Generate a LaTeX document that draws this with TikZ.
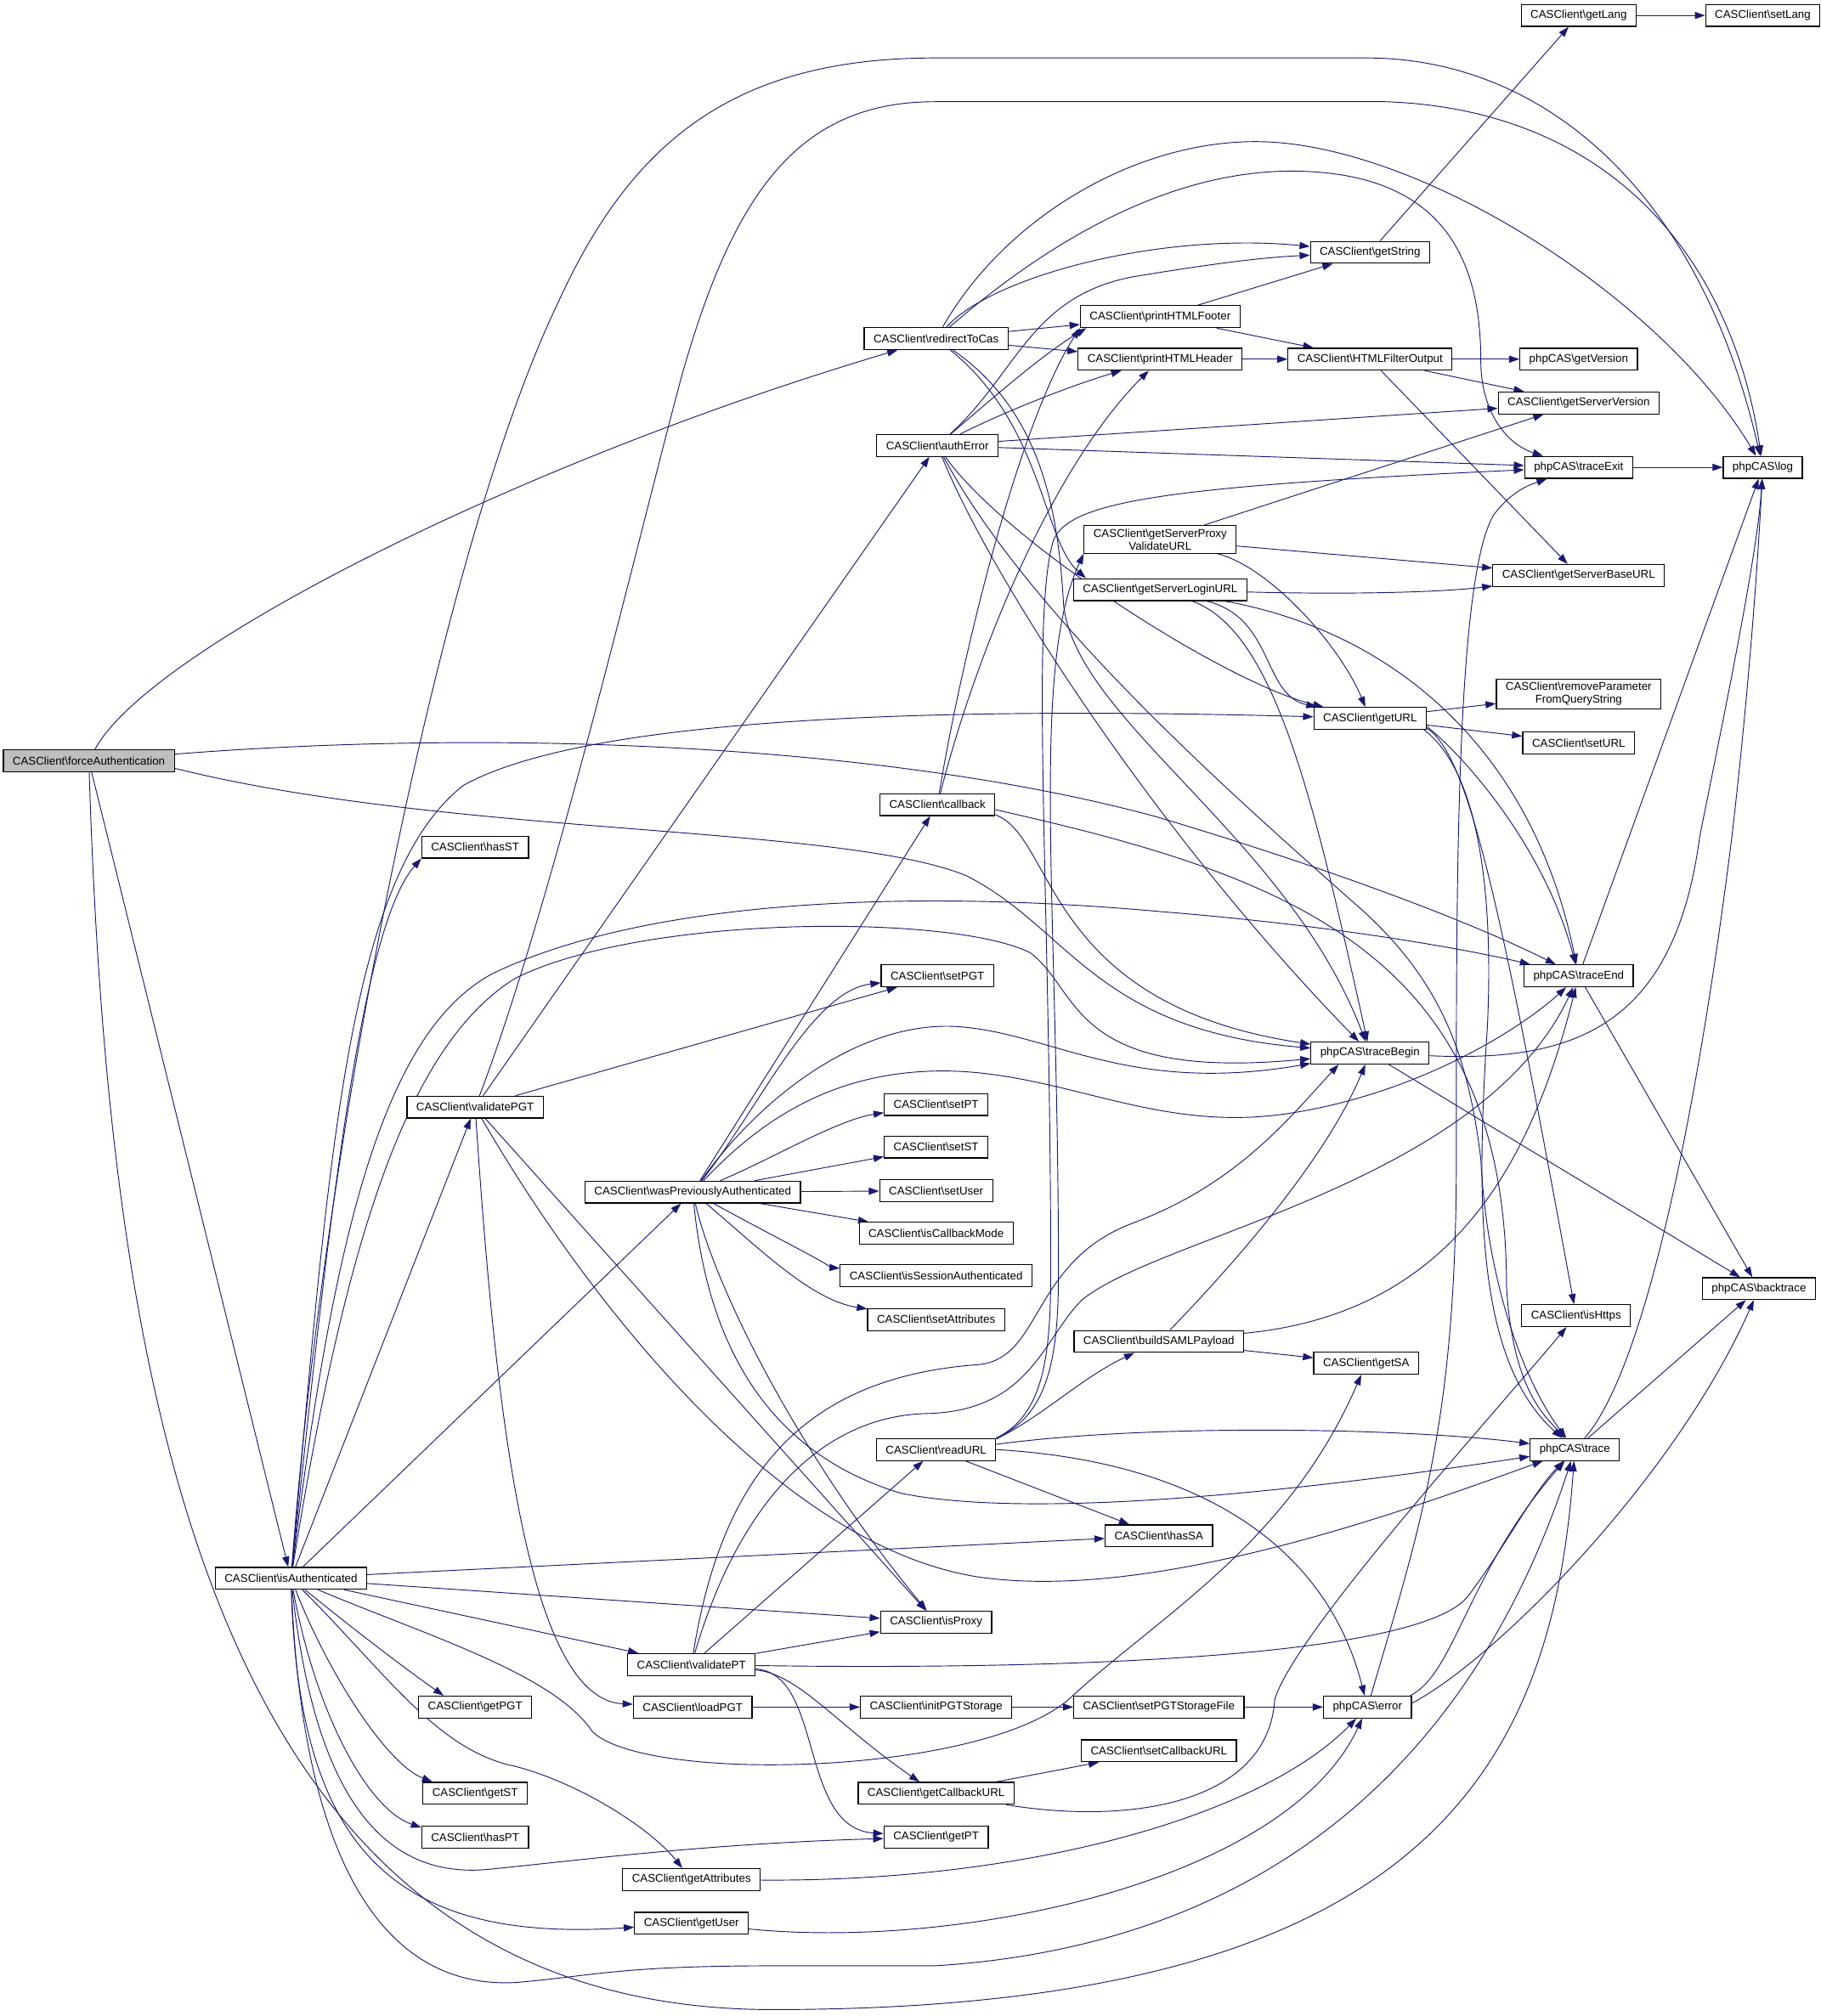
\documentclass[tikz,border=0pt]{standalone}
\usepackage{fontspec}
\setmainfont{Liberation Sans}
\usetikzlibrary{arrows.meta}
\definecolor{edgeblue}{HTML}{191970}
\newcommand{\cls}[1]{CASClient\textbackslash #1}
\newcommand{\pcs}[1]{phpCAS\textbackslash #1}
\pgfdeclarelayer{edges}
\pgfsetlayers{edges,main}

\begin{document}
\begin{tikzpicture}[x=0.04cm, y=-0.04cm,
  fn/.style={draw=black, line width=0.9pt, fill=white, shape=rectangle, inner xsep=0.29cm, inner ysep=0.1cm, minimum height=0.68cm, font=\fontsize{10}{11.5}\selectfont, align=center},
  root/.style={fn, fill=gray!50},
  call/.style={draw=edgeblue, line width=0.7pt, -{Triangle[length=0.32cm, width=0.22cm]}}]
\node[root] (fa) at (69,591) {\cls{forceAuthentication}};
\node[fn] (isA) at (226,1226) {\cls{isAuthenticated}};
\node[fn] (rtc) at (727,263) {\cls{redirectToCas}};
\node[fn] (ae) at (728,346) {\cls{authError}};
\node[fn] (hasST) at (369,658) {\cls{hasST}};
\node[fn] (cb) at (728,625) {\cls{callback}};
\node[fn] (vPGT) at (369,860) {\cls{validatePGT}};
\node[fn] (wPA) at (538,926) {\cls{wasPreviouslyAuthenticated}};
\node[fn] (setPGT) at (728,758) {\cls{setPGT}};
\node[fn] (setPT) at (727,858) {\cls{setPT}};
\node[fn] (setST) at (727,891) {\cls{setST}};
\node[fn] (setUser) at (727,925) {\cls{setUser}};
\node[fn] (isCbM) at (727,958) {\cls{isCallbackMode}};
\node[fn] (isSA) at (727,991) {\cls{isSessionAuthenticated}};
\node[fn] (setAttr) at (727,1025) {\cls{setAttributes}};
\node[fn] (readURL) at (727,1126) {\cls{readURL}};
\node[fn] (hasSA) at (900,1193) {\cls{hasSA}};
\node[fn] (isProxy) at (727,1260) {\cls{isProxy}};
\node[fn] (vPT) at (537,1293) {\cls{validatePT}};
\node[fn] (getPGT) at (369,1326) {\cls{getPGT}};
\node[fn] (loadPGT) at (538,1326) {\cls{loadPGT}};
\node[fn] (getST) at (369,1393) {\cls{getST}};
\node[fn] (hasPT) at (369,1427) {\cls{hasPT}};
\node[fn] (getAttr) at (537,1460) {\cls{getAttributes}};
\node[fn] (getUser) at (537,1494) {\cls{getUser}};
\node[fn] (getPT) at (727,1427) {\cls{getPT}};
\node[fn] (initPGT) at (727,1326) {\cls{initPGTStorage}};
\node[fn] (getCbURL) at (727,1393) {\cls{getCallbackURL}};
\node[fn] (setPGTFile) at (900,1326) {\cls{setPGTStorageFile}};
\node[fn] (setCbURL) at (900,1360) {\cls{setCallbackURL}};
\node[fn] (error) at (1062,1326) {\pcs{error}};
\node[fn] (buildSAML) at (900,1042) {\cls{buildSAMLPayload}};
\node[fn] (getSA) at (1061,1059) {\cls{getSA}};
\node[fn] (trace) at (1223,1126) {\pcs{trace}};
\node[fn] (isHttps) at (1224,1022) {\cls{isHttps}};
\node[fn] (backtrace) at (1366,1001) {\pcs{backtrace}};
\node[fn] (tBegin) at (1064,818) {\pcs{traceBegin}};
\node[fn] (tEnd) at (1226,758) {\pcs{traceEnd}};
\node[fn] (getURL) at (1064,558) {\cls{getURL}};
\node[fn] (rmParam) at (1226,539) {\cls{removeParameter}\\FromQueryString};
\node[fn] (setURL) at (1226,577) {\cls{setURL}};
\node[fn] (gSLU) at (901,458) {\cls{getServerLoginURL}};
\node[fn] (gSPV) at (901,419) {\cls{getServerProxy}\\ValidateURL};
\node[fn] (gSBU) at (1226,447) {\cls{getServerBaseURL}};
\node[fn] (tExit) at (1226,363) {\pcs{traceExit}};
\node[fn] (log) at (1369,363) {\pcs{log}};
\node[fn] (gSV) at (1226,313) {\cls{getServerVersion}};
\node[fn] (getVer) at (1226,279) {\pcs{getVersion}};
\node[fn] (filter) at (1064,279) {\cls{HTMLFilterOutput}};
\node[fn] (header) at (901,279) {\cls{printHTMLHeader}};
\node[fn] (footer) at (901,246) {\cls{printHTMLFooter}};
\node[fn] (getStr) at (1064,196) {\cls{getString}};
\node[fn] (getLang) at (1226,12) {\cls{getLang}};
\node[fn] (setLang) at (1369,12) {\cls{setLang}};
\begin{pgfonlayer}{edges}
\path[use as bounding box, fill=white] (0,0) rectangle (1414,1566);
\draw[call] (fa) .. controls (115,505) and (400,360) .. (rtc);
\draw[call] (fa) -- (isA);
\draw[call] (fa) .. controls (85,1100) and (170,1561) .. (600,1561) .. controls (1100,1561) and (1205,1380) .. (trace);
\draw[call] (fa) .. controls (400,565) and (700,580) .. (900,635) .. controls (1050,680) and (1150,720) .. (tEnd);
\draw[call] (fa.-5) .. controls (350,650) and (650,640) .. (750,680) .. controls (830,720) and (850,800) .. (tBegin);
\draw[call] (isA) .. controls (250,900) and (340,430) .. (433,236) .. controls (490,110) and (570,45) .. (726,45) -- (1061,45) .. controls (1200,45) and (1320,150) .. (log);
\draw[call] (isA) .. controls (255,900) and (270,680) .. (360,610) .. controls (450,560) and (700,548) .. (getURL);
\draw[call] (isA) .. controls (255,950) and (280,720) .. (hasST.south west);
\draw[call] (isA) .. controls (260,950) and (300,800) .. (383,756) .. controls (500,700) and (700,690) .. (900,708) .. controls (1050,720) and (1150,740) .. (tEnd);
\draw[call] (isA) .. controls (270,950) and (320,810) .. (400,760) .. controls (500,710) and (740,710) .. (800,740) .. controls (840,770) and (830,840) .. (tBegin);
\draw[call] (isA) -- (vPGT);
\draw[call] (isA) -- (wPA);
\draw[call] (isA) -- (hasSA);
\draw[call] (isA) -- (isProxy);
\draw[call] (isA) -- (vPT);
\draw[call] (isA) .. controls (280,1270) and (320,1300) .. (getPGT.160);
\draw[call] (isA) .. controls (255,1300) and (300,1370) .. (getST.165);
\draw[call] (isA) .. controls (245,1330) and (285,1405) .. (hasPT.170);
\draw[call] (isA) .. controls (245,1400) and (300,1460) .. (380,1452) .. controls (450,1445) and (550,1432) .. (getPT);
\draw[call] (isA) .. controls (300,1300) and (340,1360) .. (400,1372) .. controls (450,1385) and (505,1420) .. (getAttr);
\draw[call] (isA) .. controls (232,1430) and (300,1510) .. (getUser);
\draw[call] (isA) .. controls (235,1450) and (300,1545) .. (400,1540) .. controls (460,1535) and (480,1527) .. (600,1527) -- (726,1527) .. controls (1000,1510) and (1150,1350) .. (trace);
\draw[call] (isA) .. controls (330,1270) and (430,1300) .. (460,1345) .. controls (500,1385) and (760,1380) .. (830,1320) .. controls (900,1255) and (1000,1200) .. (getSA);
\draw[call] (vPGT) .. controls (430,700) and (500,400) .. (530,290) .. controls (570,150) and (620,79) .. (726,79) -- (1076,79) .. controls (1250,85) and (1345,200) .. (log);
\draw[call] (vPGT) -- (ae);
\draw[call] (vPGT) -- (setPGT);
\draw[call] (vPGT) .. controls (385,1100) and (410,1320) .. (loadPGT);
\draw[call] (vPGT) -- (isProxy);
\draw[call] (vPGT) .. controls (450,1000) and (600,1200) .. (760,1225) .. controls (900,1245) and (1100,1170) .. (trace);
\draw[call] (wPA) -- (cb);
\draw[call] (wPA) .. controls (590,860) and (630,770) .. (setPGT);
\draw[call] (wPA) .. controls (600,840) and (680,790) .. (750,798) .. controls (820,805) and (880,850) .. (tBegin);
\draw[call] (wPA) .. controls (600,860) and (660,830) .. (740,832) .. controls (830,835) and (900,880) .. (1000,865) .. controls (1100,850) and (1180,800) .. (tEnd);
\draw[call] (wPA) .. controls (600,900) and (650,870) .. (setPT);
\draw[call] (wPA) -- (setST);
\draw[call] (wPA) -- (setUser);
\draw[call] (wPA) -- (isCbM);
\draw[call] (wPA) .. controls (600,960) and (650,985) .. (isSA);
\draw[call] (wPA) .. controls (590,970) and (630,1010) .. (setAttr);
\draw[call] (wPA) .. controls (555,1000) and (620,1130) .. (isProxy);
\draw[call] (wPA) .. controls (550,1050) and (600,1130) .. (700,1160) .. controls (800,1180) and (1000,1160) .. (trace);
\draw[call] (cb) .. controls (745,520) and (790,330) .. (footer.south west);
\draw[call] (cb) .. controls (760,500) and (820,360) .. (header);
\draw[call] (cb.-10) .. controls (820,650) and (810,780) .. (tBegin);
\draw[call] (cb.-5) .. controls (1000,680) and (1170,740) .. (1170,1000) .. controls (1175,1080) and (1200,1100) .. (trace);
\draw[call] (ae) .. controls (770,310) and (810,275) .. ([xshift=0.2cm]footer.south west);
\draw[call] (ae) .. controls (790,290) and (800,230) .. (880,215) .. controls (940,205) and (980,200) .. (getStr);
\draw[call] (ae) .. controls (780,320) and (830,300) .. (header);
\draw[call] (ae) -- (gSV);
\draw[call] (ae) -- (tExit);
\draw[call] (ae) .. controls (780,420) and (950,530) .. (getURL);
\draw[call] (ae) .. controls (770,450) and (900,650) .. (tBegin);
\draw[call] (ae) .. controls (800,480) and (960,620) .. (1050,700) .. controls (1120,760) and (1140,820) .. (1150,900) .. controls (1155,1000) and (1185,1075) .. (trace);
\draw[call] (rtc) -- (footer);
\draw[call] (rtc) -- (header);
\draw[call] (rtc) .. controls (770,215) and (900,180) .. (getStr);
\draw[call] (rtc) .. controls (780,170) and (880,110) .. (975,110) .. controls (1100,110) and (1290,230) .. (log);
\draw[call] (rtc) .. controls (800,200) and (900,130) .. (1010,133) .. controls (1120,136) and (1150,200) .. (1150,280) .. controls (1150,320) and (1170,345) .. (tExit);
\draw[call] (rtc) .. controls (810,330) and (810,420) .. ([xshift=0.4cm]gSLU.north west);
\draw[call] (rtc) .. controls (810,320) and (822,400) .. (826,470) .. controls (836,560) and (1000,650) .. (tBegin);
\draw[call] (gSLU) .. controls (1050,462) and (1120,460) .. (gSBU);
\draw[call] (gSLU) .. controls (990,480) and (980,540) .. (getURL);
\draw[call] (gSLU) .. controls (990,490) and (1020,620) .. (tBegin);
\draw[call] (gSLU) .. controls (1080,490) and (1190,580) .. (tEnd);
\draw[call] (gSPV) -- (gSV);
\draw[call] (gSPV) -- (gSBU);
\draw[call] (gSPV) .. controls (985,440) and (1040,500) .. (getURL);
\draw[call] (getURL) -- (rmParam);
\draw[call] (getURL) -- (setURL);
\draw[call] (getURL.-10) .. controls (1140,585) and (1165,700) .. (isHttps);
\draw[call] (getURL.-12) .. controls (1150,600) and (1160,700) .. (1155,800) .. controls (1145,950) and (1150,1060) .. (trace);
\draw[call] (getURL.-8) .. controls (1140,590) and (1200,660) .. (tEnd);
\draw[call] (filter) -- (getVer);
\draw[call] (filter) -- (gSV);
\draw[call] (filter) -- (gSBU);
\draw[call] (header) -- (filter);
\draw[call] (footer) -- (filter);
\draw[call] (footer) -- (getStr);
\draw[call] (getStr) -- (getLang);
\draw[call] (getLang) -- (setLang);
\draw[call] (tExit) -- (log);
\draw[call] (tBegin) .. controls (1220,825) and (1300,800) .. (1320,650) .. controls (1340,550) and (1365,430) .. (log);
\draw[call] (tBegin) -- (backtrace);
\draw[call] (tEnd) -- (log);
\draw[call] (tEnd) -- (backtrace);
\draw[call] (trace) -- (backtrace);
\draw[call] (trace) .. controls (1280,1060) and (1320,850) .. (1345,650) .. controls (1360,520) and (1366,420) .. (log);
\draw[call] (error.15) .. controls (1130,1300) and (1140,1220) .. (trace);
\draw[call] (error.5) .. controls (1160,1290) and (1300,1150) .. (backtrace);
\draw[call] (error) .. controls (1105,1180) and (1131,1100) .. (1131,900) .. controls (1131,700) and (1130,450) .. (1160,400) .. controls (1175,380) and (1190,376) .. (tExit);
\draw[call] (getAttr) .. controls (800,1462) and (980,1410) .. (error);
\draw[call] (getUser) .. controls (750,1515) and (1000,1460) .. (error);
\draw[call] (loadPGT) -- (initPGT);
\draw[call] (initPGT) -- (setPGTFile);
\draw[call] (setPGTFile) -- (error);
\draw[call] (getCbURL) -- (setCbURL);
\draw[call] (getCbURL) .. controls (880,1418) and (985,1400) .. (990,1320) .. controls (1005,1270) and (1150,1110) .. (isHttps);
\draw[call] (readURL.10) .. controls (810,1100) and (840,1070) .. (buildSAML);
\draw[call] (readURL) -- (hasSA);
\draw[call] (readURL.5) .. controls (900,1105) and (1100,1110) .. (trace);
\draw[call] (readURL.east) .. controls (930,1135) and (1030,1200) .. (error);
\draw[call] (readURL.north east) .. controls (812,1100) and (822,1060) .. (822,990) .. controls (822,700) and (800,520) .. (gSPV.south west);
\draw[call] (readURL.north east) .. controls (808,1100) and (816,1060) .. (816,990) .. controls (816,700) and (800,480) .. (818,420) .. controls (830,390) and (900,378) .. (tExit);
\draw[call] (buildSAML) -- (getSA);
\draw[call] (buildSAML) .. controls (960,980) and (1030,900) .. (tBegin);
\draw[call] (buildSAML) .. controls (1130,1020) and (1190,900) .. (tEnd);
\draw[call] (vPT) .. controls (560,1150) and (620,1070) .. (760,1060) .. controls (810,1055) and (800,980) .. (880,950) .. controls (960,920) and (1000,870) .. (tBegin.200);
\draw[call] (vPT) .. controls (570,1180) and (630,1100) .. (720,1098) .. controls (800,1096) and (810,1040) .. (840,1010) .. controls (900,960) and (1150,920) .. (tEnd);
\draw[call] (vPT) -- (readURL);
\draw[call] (vPT) -- (isProxy);
\draw[call] (vPT) .. controls (800,1297) and (1100,1290) .. (1140,1240) .. controls (1170,1200) and (1190,1160) .. (trace);
\draw[call] (vPT) .. controls (620,1300) and (650,1340) .. (getCbURL);
\draw[call] (vPT) .. controls (640,1300) and (620,1420) .. (getPT);
\end{pgfonlayer}
\end{tikzpicture}
\end{document}
